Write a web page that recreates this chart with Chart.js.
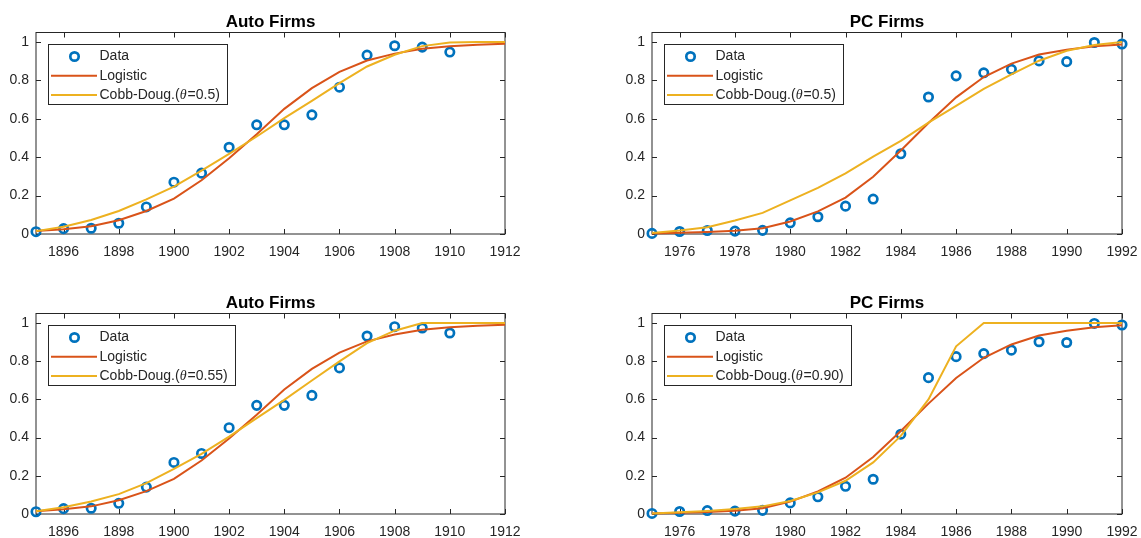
<!DOCTYPE html>
<html>
<head>
<meta charset="utf-8">
<script src="https://cdn.jsdelivr.net/npm/chart.js@4/dist/chart.umd.min.js"></script>
<style>
  html, body { margin: 0; padding: 0; background: #fff; overflow: hidden; width: 1141px; height: 538px; position: relative; }
  canvas.panel { position: absolute; }
</style>
</head>
<body>
<canvas id="autoTop" class="panel" style="left:0px;top:0px" width="541" height="262"></canvas>
<canvas id="pcTop" class="panel" style="left:616px;top:0px" width="542" height="262"></canvas>
<canvas id="autoBottom" class="panel" style="left:0px;top:281px" width="541" height="261"></canvas>
<canvas id="pcBottom" class="panel" style="left:616px;top:281px" width="542" height="261"></canvas>
<script>
// ---- Automobile industry: share of firms adopting, 1895-1910, with fitted curves to 1912
const autoYears = [1895, 1896, 1897, 1898, 1899, 1900, 1901, 1902, 1903, 1904, 1905, 1906, 1907, 1908, 1909, 1910, 1911, 1912];
const autoDataYears = [1895, 1896, 1897, 1898, 1899, 1900, 1901, 1902, 1903, 1904, 1905, 1906, 1907, 1908, 1909, 1910];
const autoData = [0.012, 0.028, 0.030, 0.056, 0.141, 0.270, 0.317, 0.452, 0.569, 0.569, 0.621, 0.765, 0.932, 0.981, 0.974, 0.948];
const autoLogistic = [0.015, 0.025, 0.040, 0.072, 0.120, 0.184, 0.280, 0.395, 0.520, 0.652, 0.760, 0.845, 0.904, 0.940, 0.965, 0.978, 0.986, 0.991];
const autoCobb050 = [0.015, 0.038, 0.073, 0.120, 0.180, 0.247, 0.330, 0.417, 0.508, 0.604, 0.694, 0.786, 0.873, 0.934, 0.979, 0.998, 1.0, 1.0];
const autoCobb055 = [0.015, 0.035, 0.065, 0.104, 0.162, 0.236, 0.315, 0.405, 0.502, 0.598, 0.699, 0.799, 0.895, 0.960, 1.0, 1.0, 1.0, 1.0];

// ---- Personal computer industry, 1975-1992
const pcYears = [1975, 1976, 1977, 1978, 1979, 1980, 1981, 1982, 1983, 1984, 1985, 1986, 1987, 1988, 1989, 1990, 1991, 1992];
const pcData = [0.003, 0.013, 0.018, 0.015, 0.019, 0.058, 0.090, 0.145, 0.182, 0.418, 0.714, 0.824, 0.840, 0.858, 0.902, 0.898, 0.998, 0.990];
const pcLogistic = [0.003, 0.006, 0.010, 0.017, 0.030, 0.065, 0.118, 0.190, 0.298, 0.435, 0.578, 0.712, 0.818, 0.888, 0.935, 0.960, 0.978, 0.988];
const pcCobb050 = [0.005, 0.018, 0.035, 0.070, 0.110, 0.175, 0.240, 0.316, 0.403, 0.485, 0.580, 0.668, 0.756, 0.832, 0.903, 0.955, 0.985, 1.0];
const pcCobb090 = [0.003, 0.009, 0.016, 0.026, 0.040, 0.068, 0.113, 0.174, 0.270, 0.409, 0.600, 0.878, 1.0, 1.0, 1.0, 1.0, 1.0, 1.0];

// ---- Tick labels
const autoTicks = [1896, 1898, 1900, 1902, 1904, 1906, 1908, 1910, 1912];
const pcTicks = [1976, 1978, 1980, 1982, 1984, 1986, 1988, 1990, 1992];
const shareTicks = [0, 0.2, 0.4, 0.6, 0.8, 1];

const FONT = 'Arial, "Liberation Sans", Helvetica, sans-serif';
const AXIS_COLOR = '#262626';
const BLUE = '#0072BD', RED = '#D95319', YELLOW = '#EDB120';

function pairs(xs, ys) { return ys.map((y, i) => ({ x: xs[i], y })); }

// Box around the axes with inward-pointing ticks on all four sides
const boxFrame = {
  id: 'boxFrame',
  beforeDatasetsDraw(chart) {
    const { ctx, chartArea: a, scales } = chart;
    const len = 5;
    ctx.save();
    ctx.strokeStyle = AXIS_COLOR;
    ctx.lineWidth = 1;
    ctx.strokeRect(a.left, a.top, a.right - a.left, a.bottom - a.top);
    ctx.beginPath();
    scales.x.ticks.forEach(t => {
      const px = Math.round(scales.x.getPixelForValue(t.value)) + 0.5;
      ctx.moveTo(px, a.bottom); ctx.lineTo(px, a.bottom - len);
      ctx.moveTo(px, a.top); ctx.lineTo(px, a.top + len);
    });
    scales.y.ticks.forEach(t => {
      const py = Math.round(scales.y.getPixelForValue(t.value)) + 0.5;
      ctx.moveTo(a.left, py); ctx.lineTo(a.left + len, py);
      ctx.moveTo(a.right, py); ctx.lineTo(a.right - len, py);
    });
    ctx.stroke();
    ctx.restore();
  }
};

// Bold panel title centred over the axes
const panelTitle = {
  id: 'panelTitle',
  afterDraw(chart, args, opts) {
    const { ctx, chartArea: a } = chart;
    ctx.save();
    ctx.font = 'bold 17px ' + FONT;
    ctx.fillStyle = '#000';
    ctx.textAlign = 'center';
    ctx.textBaseline = 'alphabetic';
    ctx.fillText(opts.text, (a.left + a.right) / 2, a.top - 6);
    ctx.restore();
  }
};

// Legend drawn inside the upper-left corner of the axes
const THETA_FONT = 'italic 14px "Liberation Serif", "Times New Roman", serif';
function drawLabel(ctx, text, x, y) {
  const parts = text.split('θ');
  let cx = x;
  parts.forEach((p, i) => {
    if (i > 0) {
      ctx.font = THETA_FONT;
      ctx.fillText('θ', cx, y);
      cx += ctx.measureText('θ').width + 1;
    }
    ctx.font = '14px ' + FONT;
    ctx.fillText(p, cx, y);
    cx += ctx.measureText(p).width;
  });
  return cx - x;
}
function labelWidth(ctx, text) {
  const parts = text.split('θ');
  let w = 0;
  parts.forEach((p, i) => {
    if (i > 0) { ctx.font = THETA_FONT; w += ctx.measureText('θ').width + 1; }
    ctx.font = '14px ' + FONT; w += ctx.measureText(p).width;
  });
  return w;
}
const insetLegend = {
  id: 'insetLegend',
  afterDraw(chart) {
    const { ctx, chartArea: a } = chart;
    const sets = chart.data.datasets;
    const x0 = a.left + 11.5, y0 = a.top + 11.5;
    ctx.save();
    let maxW = 0;
    sets.forEach(ds => { maxW = Math.max(maxW, labelWidth(ctx, ds.label)); });
    const w = 52 + maxW + 7, h = 60;
    ctx.fillStyle = '#fff';
    ctx.fillRect(x0, y0, w, h);
    ctx.strokeStyle = AXIS_COLOR;
    ctx.lineWidth = 1;
    ctx.strokeRect(Math.round(x0) + 0.5, Math.round(y0) + 0.5, Math.round(w), h);
    sets.forEach((ds, i) => {
      const ry = y0 + 12.5 + i * 19.2;
      if (ds.showLine === false) {
        ctx.strokeStyle = ds.pointBorderColor;
        ctx.lineWidth = ds.pointBorderWidth;
        ctx.beginPath();
        ctx.arc(x0 + 27, ry, ds.pointRadius, 0, Math.PI * 2);
        ctx.stroke();
      } else {
        ctx.strokeStyle = ds.borderColor;
        ctx.lineWidth = ds.borderWidth;
        ctx.beginPath();
        ctx.moveTo(x0 + 3.5, ry); ctx.lineTo(x0 + 49.5, ry);
        ctx.stroke();
      }
      ctx.fillStyle = AXIS_COLOR;
      ctx.textAlign = 'left';
      ctx.textBaseline = 'middle';
      drawLabel(ctx, ds.label, x0 + 52, ry);
    });
    ctx.restore();
  }
};

function makePanel(id, title, dataYears, data, lineYears, logistic, cobb, thetaText, xTicks, xMin, xMax) {
  const ctx = document.getElementById(id).getContext('2d');
  return new Chart(ctx, {
    type: 'line',
    data: {
      datasets: [
        {
          label: 'Data', data: pairs(dataYears, data), showLine: false,
          pointStyle: 'circle', pointRadius: 4.2, pointBorderWidth: 2.7,
          pointBorderColor: BLUE, pointBackgroundColor: 'rgba(0,0,0,0)',
          borderColor: BLUE, order: 3, clip: false
        },
        {
          label: 'Logistic', data: pairs(lineYears, logistic),
          borderColor: RED, borderWidth: 2, pointRadius: 0, tension: 0,
          fill: false, order: 2, clip: false
        },
        {
          label: 'Cobb-Doug.(θ=' + thetaText + ')', data: pairs(lineYears, cobb),
          borderColor: YELLOW, borderWidth: 2, pointRadius: 0, tension: 0,
          fill: false, order: 1, clip: false
        }
      ]
    },
    options: {
      responsive: false,
      animation: false,
      devicePixelRatio: 1,
      layout: { padding: { left: 0, right: 36, top: 32.5, bottom: 0 } },
      plugins: {
        legend: { display: false },
        tooltip: { enabled: false },
        title: { display: false },
        panelTitle: { text: title }
      },
      scales: {
        x: {
          type: 'linear', min: xMin, max: xMax,
          grid: { display: false, drawTicks: false },
          border: { display: false },
          afterBuildTicks: s => { s.ticks = xTicks.map(v => ({ value: v })); },
          afterFit: s => { s.height = 28; },
          ticks: {
            font: { family: FONT, size: 14 }, color: AXIS_COLOR, padding: 10,
            maxRotation: 0, autoSkip: false,
            callback: v => String(v)
          }
        },
        y: {
          type: 'linear', min: 0, max: 1.05,
          grid: { display: false, drawTicks: false },
          border: { display: false },
          afterBuildTicks: s => { s.ticks = shareTicks.map(v => ({ value: v })); },
          afterFit: s => { s.width = 36; },
          ticks: {
            font: { family: FONT, size: 14 }, color: AXIS_COLOR, padding: 7,
            callback: v => String(Number(v.toFixed(2)))
          }
        }
      }
    },
    plugins: [boxFrame, insetLegend, panelTitle]
  });
}

makePanel('autoTop', 'Auto Firms', autoDataYears, autoData, autoYears, autoLogistic, autoCobb050, '0.5', autoTicks, 1895, 1912);
makePanel('pcTop', 'PC Firms', pcYears, pcData, pcYears, pcLogistic, pcCobb050, '0.5', pcTicks, 1975, 1992);
makePanel('autoBottom', 'Auto Firms', autoDataYears, autoData, autoYears, autoLogistic, autoCobb055, '0.55', autoTicks, 1895, 1912);
makePanel('pcBottom', 'PC Firms', pcYears, pcData, pcYears, pcLogistic, pcCobb090, '0.90', pcTicks, 1975, 1992);
</script>
</body>
</html>
